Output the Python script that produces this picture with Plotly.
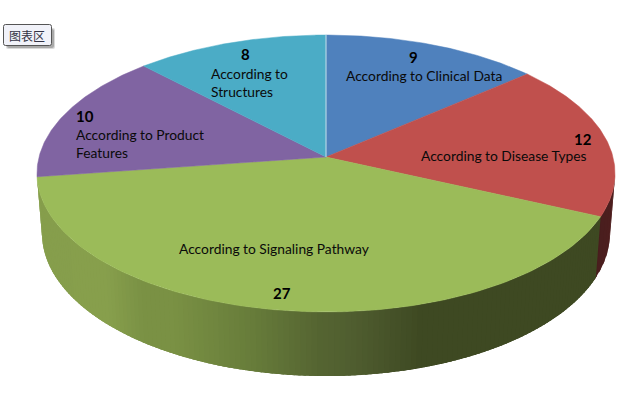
import math
import numpy as np
import plotly.graph_objects as go

categories = ["According to Clinical Data", "According to Disease Types",
              "According to Signaling Pathway", "According to Product Features",
              "According to Structures"]
values = [9, 12, 27, 10, 8]
top_colors = ["#4f81bd", "#c0504d", "#9bbb59", "#8064a2", "#4bacc6"]
chip_label = "图表区"

FONT = "Lato, Carlito, Calibri, sans-serif"
CX, CY, R, S, K = 326.0, 157.0, 287.0, 136.5, 0.119
BASE_CY, BASE_R, BASE_S = 216.0, 282.0, 141.0


def project(deg, cy=CY, r=R, s=S):
    a = np.radians(deg)
    u, v = np.sin(a), np.cos(a)
    w = 1 + K * v
    return CX + r * u / w, cy - s * v / w


def base(deg):
    return project(deg, BASE_CY, BASE_R, BASE_S)


green_stops = [(36, (134, 158, 76)), (105, (136, 160, 77)), (140, (123, 146, 69)),
               (173, (122, 145, 68)), (250, (104, 125, 59)), (320, (85, 101, 50)),
               (353, (80, 94, 48)), (420, (63, 74, 35)), (600, (62, 73, 34))]


def green_side(x):
    xs = [p[0] for p in green_stops]
    return "rgb(%d,%d,%d)" % tuple(
        np.interp(x, xs, [p[1][i] for p in green_stops]) for i in range(3))


total = sum(values)
edges = np.cumsum([0] + values) / total * 360.0
traces = []


def band(a0, a1, color):
    n = max(2, int((a1 - a0) / 0.5))
    th = np.linspace(a0, a1, n)
    tx, ty = project(th)
    bx, by = base(th[::-1])
    traces.append(go.Scatter(
        x=np.r_[tx, bx, tx[0]], y=np.r_[ty, by, ty[0]], mode="lines",
        fill="toself", fillcolor=color, line=dict(width=0),
        hoverinfo="skip", showlegend=False))


# outer wall: each band overlaps the next one so no seams show
red_start = 96.0
OVERLAP = 1.5
for a0 in np.arange(red_start, edges[2], 3.0):
    a1 = min(a0 + 3.0 + OVERLAP, edges[2] + OVERLAP)
    band(a0, a1, "rgb(%d,30,30)" % (80 - (a0 - red_start) * 0.4))
for a0 in np.arange(edges[2], edges[3], 1.0):
    a1 = min(a0 + 1.0 + OVERLAP, edges[3] + 1.0)
    band(a0, a1, green_side(project(a0 + 0.5)[0]))

# top face
for i, val in enumerate(values):
    th = np.linspace(edges[i], edges[i + 1], 120)
    px, py = project(th)
    traces.append(go.Scatter(
        x=np.r_[CX, px, CX], y=np.r_[CY, py, CY], mode="lines", fill="toself",
        fillcolor=top_colors[i], line=dict(color=top_colors[i], width=0.5),
        hoverinfo="skip", showlegend=False, name=categories[i]))

# light seam at the first slice edge
sx, sy = project(0.0)
traces.append(go.Scatter(x=[CX, sx], y=[CY, sy], mode="lines",
                         line=dict(color="#c9dcec", width=1),
                         hoverinfo="skip", showlegend=False))

fig = go.Figure(traces)

# label anchors, in slice order
number_at = [(413, 57), (583, 139), (282, 293), (85, 115.5), (245, 54)]
label_at = [(346, 75, "According to Clinical Data"),
            (421, 155, "According to Disease Types"),
            (179, 248, "According to Signaling Pathway"),
            (76, 143, "According to Product<br>Features"),
            (211, 82, "According to<br>Structures")]
ann = []
for v, (x, y) in zip(values, number_at):
    ann.append(dict(x=x, y=y, text="<b>%d</b>" % v, showarrow=False, xanchor="center",
                    yanchor="middle", font=dict(family=FONT, size=15, color="black")))
for x, y, t in label_at:
    ann.append(dict(x=x, y=y, text=t, showarrow=False, xanchor="left", yanchor="middle",
                    align="left", xshift=-2, font=dict(family=FONT, size=13.8, color="#0a0a0a")))
ann.append(dict(x=27, y=35, text=chip_label, showarrow=False, xanchor="center", yanchor="middle",
                font=dict(family="Noto Sans CJK SC", size=12, color="#333344")))


def rrect(x0, y0, x1, y1, r=2):
    return (f"M{x0+r},{y0} L{x1-r},{y0} Q{x1},{y0} {x1},{y0+r} L{x1},{y1-r} Q{x1},{y1} {x1-r},{y1} "
            f"L{x0+r},{y1} Q{x0},{y1} {x0},{y1-r} L{x0},{y0+r} Q{x0},{y0} {x0+r},{y0} Z")


shapes = [
    dict(type="path", path=rrect(6, 28, 55, 49), fillcolor="rgba(150,150,150,0.35)", line=dict(width=0)),
    dict(type="path", path=rrect(7, 29, 54, 48), fillcolor="rgba(130,130,130,0.55)", line=dict(width=0)),
    dict(type="path", path=rrect(3.5, 24.5, 51.5, 45.5), fillcolor="#f1f2f9",
         line=dict(color="#555555", width=1)),
]

fig.update_layout(
    width=644, height=396, margin=dict(l=0, r=0, t=0, b=0),
    paper_bgcolor="white", plot_bgcolor="white", showlegend=False,
    xaxis=dict(range=[0, 644], visible=False, fixedrange=True),
    yaxis=dict(range=[396, 0], visible=False, fixedrange=True),
    annotations=ann, shapes=shapes,
)
fig.write_html("out.html", config=dict(displayModeBar=False),
               post_script="document.body.style.margin='0';")
